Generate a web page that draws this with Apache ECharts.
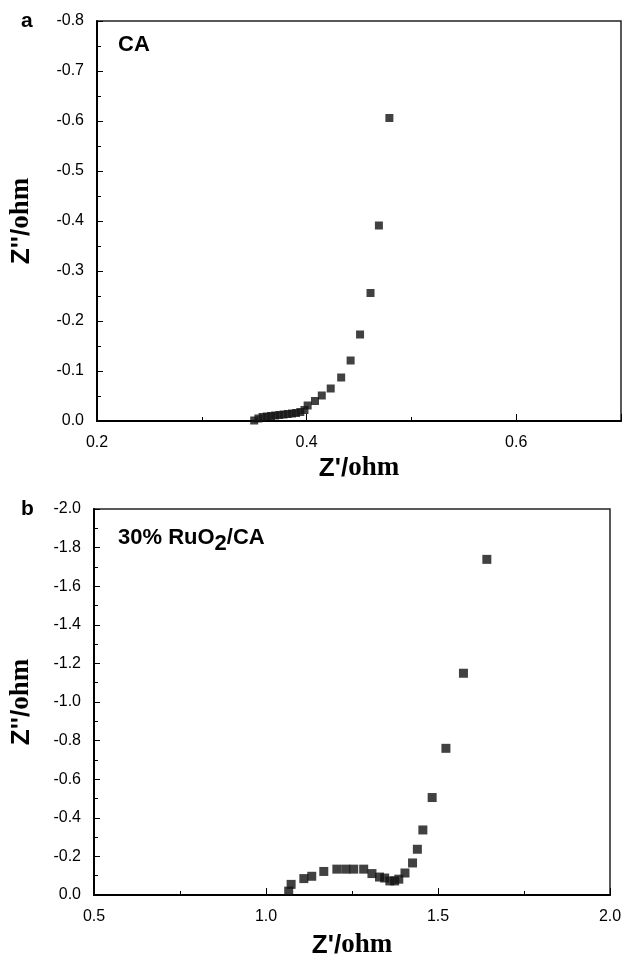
<!DOCTYPE html>
<html>
<head>
<meta charset="utf-8">
<script src="https://cdn.jsdelivr.net/npm/echarts@6/dist/echarts.min.js"></script>
<style>html,body{margin:0;padding:0;background:#fff;}#c{width:630px;height:958px;}</style>
</head>
<body>
<div id="c"></div>
<script>
// Panel a: CA  [Z' (ohm), Z'' (ohm)]
const caPoints = [
  [0.350, -0.001], [0.354, -0.005], [0.358, -0.008], [0.362, -0.009], [0.366, -0.010],
  [0.370, -0.011], [0.374, -0.012], [0.378, -0.013], [0.382, -0.014], [0.386, -0.015],
  [0.390, -0.016], [0.394, -0.018], [0.398, -0.022], [0.401, -0.031], [0.408, -0.040],
  [0.4145, -0.051], [0.423, -0.065], [0.433, -0.087], [0.442, -0.121], [0.451, -0.173],
  [0.461, -0.256], [0.469, -0.391], [0.479, -0.606]
];
// Panel b: 30% RuO2/CA
const ruPoints = [
  [1.066, -0.020], [1.073, -0.055], [1.110, -0.085], [1.133, -0.097], [1.168, -0.122],
  [1.206, -0.134], [1.232, -0.134], [1.255, -0.134], [1.284, -0.134], [1.308, -0.111],
  [1.330, -0.093], [1.345, -0.088], [1.360, -0.073], [1.374, -0.073], [1.386, -0.082],
  [1.404, -0.114], [1.426, -0.166], [1.440, -0.237], [1.456, -0.337], [1.483, -0.505],
  [1.523, -0.760], [1.574, -1.149], [1.642, -1.739]
];
const axisA = { xMin: 0.2, xMax: 0.7, xStep: 0.2, yMin: -0.8, yMax: 0, yStep: 0.1 };
const axisB = { xMin: 0.5, xMax: 2.0, xStep: 0.5, yMin: -2.0, yMax: 0, yStep: 0.2 };

const fmt = v => Number(v).toFixed(1);
const lbl = { color: '#000', fontSize: 16, fontFamily: 'Liberation Sans, Arial, sans-serif', formatter: fmt };
const titleRich = {
  s: { fontFamily: 'Liberation Sans, Arial, sans-serif', fontWeight: 'bold', fontSize: 26, color: '#000' },
  t: { fontFamily: 'Liberation Serif, Times New Roman, serif', fontWeight: 'bold', fontSize: 27, color: '#000' }
};
function xAx(idx, a, showMax, gap) {
  return {
    type: 'value', gridIndex: idx, min: a.xMin, max: a.xMax, interval: a.xStep,
    name: "{s|Z'/}{t|ohm}", nameLocation: 'middle', nameGap: gap,
    nameTextStyle: { rich: titleRich },
    axisLine: { show: true, onZero: false, lineStyle: { color: '#000', width: 2 } },
    axisTick: { inside: true, length: 7, lineStyle: { color: '#000' } },
    minorTick: { show: true, splitNumber: 2, length: 4, lineStyle: { color: '#000' } },
    axisLabel: Object.assign({ margin: 14, showMaxLabel: showMax }, lbl),
    splitLine: { show: false }
  };
}
function yAx(idx, a, gap) {
  return {
    type: 'value', gridIndex: idx, min: a.yMin, max: a.yMax, interval: a.yStep, inverse: true,
    name: "{s|Z''/}{t|ohm}", nameLocation: 'middle', nameGap: gap, nameRotate: 90,
    nameTextStyle: { rich: titleRich },
    axisLine: { show: true, onZero: false, lineStyle: { color: '#000', width: 2 } },
    axisTick: { inside: true, length: 6, lineStyle: { color: '#000' } },
    minorTick: { show: true, splitNumber: 2, length: 4, lineStyle: { color: '#000' } },
    axisLabel: Object.assign({ margin: 13 }, lbl),
    splitLine: { show: false }
  };
}
const chart = echarts.init(document.getElementById('c'), null, { renderer: 'canvas' });
const boldSans = px => 'bold ' + px + 'px "Liberation Sans", Arial, sans-serif';
chart.setOption({
  animation: false,
  backgroundColor: '#fff',
  grid: [
    { left: 97, top: 21, width: 524, height: 400, outerBoundsMode: 'none', containLabel: false, show: true, borderColor: '#222', borderWidth: 1.5, backgroundColor: 'transparent' },
    { left: 94, top: 509, width: 516, height: 386, outerBoundsMode: 'none', containLabel: false, show: true, borderColor: '#222', borderWidth: 1.5, backgroundColor: 'transparent' }
  ],
  xAxis: [xAx(0, axisA, false, 34), xAx(1, axisB, true, 37)],
  yAxis: [yAx(0, axisA, 62), yAx(1, axisB, 59)],
  series: [
    { type: 'scatter', xAxisIndex: 0, yAxisIndex: 0, data: caPoints, symbol: 'rect', symbolSize: 8, itemStyle: { color: '#111' } },
    { type: 'scatter', xAxisIndex: 1, yAxisIndex: 1, data: ruPoints, symbol: 'rect', symbolSize: 9, itemStyle: { color: '#111' } }
  ],
  graphic: [
    { type: 'text', left: 21, top: 11, style: { text: 'a', font: boldSans(21), fill: '#000' } },
    { type: 'text', left: 118, top: 34, style: { text: 'CA', font: boldSans(22), fill: '#000' } },
    { type: 'text', left: 21, top: 499, style: { text: 'b', font: boldSans(21), fill: '#000' } },
    { type: 'text', left: 118, top: 524, style: {
        text: '{m|30% RuO}{sub|2}{m|/CA}',
        rich: {
          m: { font: boldSans(22), fill: '#000', verticalAlign: 'top', lineHeight: 26 },
          sub: { font: boldSans(22), fill: '#000', padding: [9, 0, 0, 0], lineHeight: 26 }
        } } }
  ]
});
</script>
</body>
</html>
